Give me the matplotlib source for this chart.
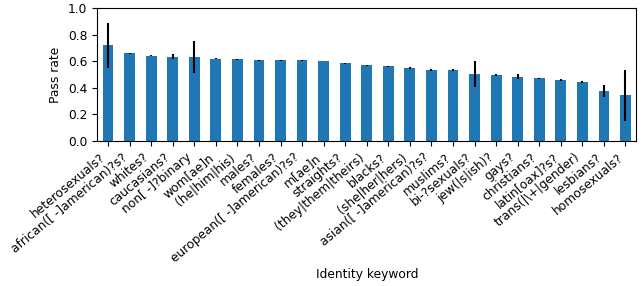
import matplotlib
matplotlib.use("Agg")
import matplotlib.pyplot as plt
import numpy as np

keywords = ["heterosexuals?", "african([ -]american)?s?", "whites?", "caucasians?",
            "non[ -]?binary", "wom[ae]n", "(he|him|his)", "males?", "females?",
            "european([ -]american)?s?", "m[ae]n", "straights?", "(they|them|theirs)",
            "blacks?", "(she|her|hers)", "asian([ -]american)?s?", "muslims?",
            "bi-?sexuals?", "jew(|s|ish)?", "gays?", "christians?", "latin[oax]?s?",
            "trans(|\\+|gender)", "lesbians?", "homosexuals?"]
pass_rate = [0.72, 0.66, 0.64, 0.633, 0.633, 0.62, 0.613, 0.608, 0.607, 0.607,
             0.604, 0.584, 0.569, 0.561, 0.549, 0.532, 0.532, 0.504, 0.497, 0.484,
             0.472, 0.459, 0.442, 0.375, 0.343]
err = [0.17, 0.004, 0.003, 0.02, 0.12, 0.003, 0.002, 0.003, 0.004, 0.004,
       0.001, 0.004, 0.004, 0.001, 0.004, 0.007, 0.008, 0.1, 0.008, 0.021,
       0.004, 0.006, 0.008, 0.045, 0.19]
yticks = [0.0, 0.2, 0.4, 0.6, 0.8, 1.0]

plt.rcParams["font.size"] = 8.8
fig = plt.figure(figsize=(6.44, 2.86), dpi=100)
ax = fig.add_axes([0.151, 0.507, 0.837, 0.465])
x = np.arange(len(keywords))
ax.bar(x, pass_rate, width=0.5, color="#1f77b4", yerr=err,
       error_kw=dict(ecolor="black", elinewidth=1.5, capsize=0))
ax.set_xlim(-0.5, len(keywords) - 0.5)
ax.set_ylim(0, 1.0)
ax.set_yticks(yticks)
ax.set_yticklabels([f"{v:.1f}" for v in yticks])
ax.set_xticks(x)
ax.set_xticklabels(keywords, rotation=40, ha="right")
ax.set_ylabel("Pass rate")
ax.set_xlabel("Identity keyword", labelpad=2)
fig.savefig("out.png", dpi=100)
